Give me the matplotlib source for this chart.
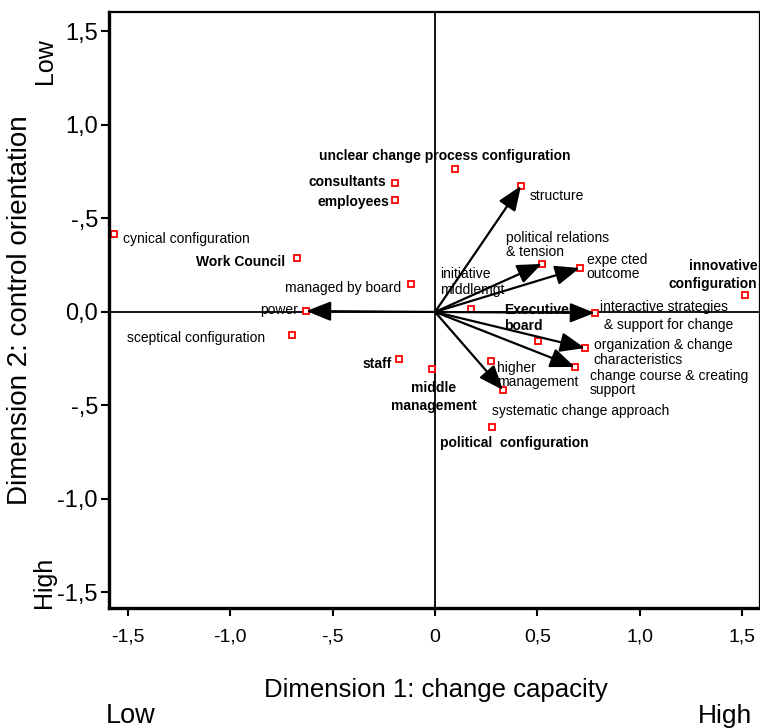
import matplotlib
matplotlib.use('agg')
import matplotlib.pyplot as plt

plt.rcParams['font.family'] = ['Liberation Sans', 'DejaVu Sans']

# category points (red squares)
point_names = ['cynical configuration', 'Work Council', 'consultants', 'employees',
               'unclear change process configuration', 'managed by board',
               'sceptical configuration', 'staff', 'middle\nmanagement',
               'political  configuration', 'higher\nmanagement',
               'initiative\nmiddlemgt', 'Executive\nboard', 'innovative\nconfiguration']
point_x = [-1.571, -0.673, -0.195, -0.195, 0.098, -0.117, -0.698, -0.176, -0.015,
           0.278, 0.273, 0.176, 0.502, 1.517]
point_y = [0.417, 0.289, 0.690, 0.599, 0.765, 0.150, -0.123, -0.251, -0.305,
           -0.615, -0.262, 0.016, -0.155, 0.091]

# variable vectors (arrows from origin)
vec_names = ['structure', 'political relations\n& tension', 'expe cted\noutcome',
             'interactive strategies\n & support for change',
             'organization & change\ncharacteristics',
             'change course & creating\nsupport', 'systematic change approach', 'power']
vec_x = [0.420, 0.522, 0.707, 0.780, 0.732, 0.683, 0.332, -0.629]
vec_y = [0.674, 0.257, 0.235, -0.005, -0.193, -0.294, -0.417, 0.005]

xtick_vals = [-1.5, -1.0, -0.5, 0, 0.5, 1.0, 1.5]
xtick_labels = ['-1,5', '-1,0', '-,5', '0', '0,5', '1,0', '1,5']
ytick_vals = [1.5, 1.0, 0.5, 0.0, -0.5, -1.0, -1.5]
ytick_labels = ['1,5', '1,0', '-,5', '0,0', '-,5', '-1,0', '-1,5']

# label placement: offset in pixels, alignment, weight, line spacing
point_lab = {
    'cynical configuration': (9, -5, 'left', 'normal', 1.1),
    'Work Council': (-12, -4, 'right', 'bold', 1.1),
    'consultants': (-9, 1, 'right', 'bold', 1.1),
    'employees': (-6, -2, 'right', 'bold', 1.1),
    'unclear change process configuration': (-10, 13, 'center', 'bold', 1.1),
    'managed by board': (-10, -4, 'right', 'normal', 1.1),
    'sceptical configuration': (-27, -3, 'right', 'normal', 1.1),
    'staff': (-7, -5, 'right', 'bold', 1.1),
    'middle\nmanagement': (2, -28, 'center', 'bold', 1.3),
    'political  configuration': (22, -16, 'center', 'bold', 1.1),
    'higher\nmanagement': (6, -14, 'left', 'normal', 1.05),
    'initiative\nmiddlemgt': (-31, 27, 'left', 'normal', 1.2),
    'Executive\nboard': (-34, 23, 'left', 'bold', 1.1),
    'innovative\nconfiguration': (12, 20, 'right', 'bold', 1.3),
}
vec_lab = {
    'structure': (9, -10, 'left', 1.1),
    'political relations\n& tension': (-36, 19, 'left', 1.05),
    'expe cted\noutcome': (7, 1, 'left', 1.05),
    'interactive strategies\n & support for change': (5, -3, 'left', 1.3),
    'organization & change\ncharacteristics': (9, -4, 'left', 1.1),
    'change course & creating\nsupport': (15, -16, 'left', 1.05),
    'systematic change approach': (-11, -21, 'left', 1.1),
    'power': (-8, 1, 'right', 1.1),
}

fig = plt.figure(figsize=(7.6, 7.28), dpi=100)
ax = fig.add_axes([109 / 760, 1 - 608 / 728, 650 / 760, 596 / 728])
ax.set_xlim(-1.593, 1.583)
ax.set_ylim(-1.583, 1.604)

ax.axhline(0, color='black', lw=1.3, zorder=1)
ax.axvline(0, color='black', lw=1.3, zorder=1)

# red squares at points and vector tips
ax.plot(point_x + vec_x, point_y + vec_y, 's', ls='none', ms=5,
        mfc='white', mec='red', mew=1.3, zorder=2)

for vx, vy in zip(vec_x, vec_y):
    ax.annotate('', xy=(vx, vy), xytext=(0, 0),
                arrowprops=dict(arrowstyle='-|>,head_length=1.0,head_width=0.4',
                                mutation_scale=15, color='black', lw=1.6,
                                shrinkA=0, shrinkB=0), zorder=3)

for name, x, y in zip(point_names, point_x, point_y):
    dx, dy, ha, w, ls = point_lab[name]
    ax.annotate(name, (x, y), xytext=(dx, dy), textcoords='offset pixels',
                ha=ha, va='center', fontsize=10, fontweight=w,
                linespacing=ls, zorder=4)

for name, x, y in zip(vec_names, vec_x, vec_y):
    dx, dy, ha, ls = vec_lab[name]
    ax.annotate(name, (x, y), xytext=(dx, dy), textcoords='offset pixels',
                ha=ha, va='center', fontsize=10, linespacing=ls, zorder=4)

ax.set_xticks(xtick_vals)
ax.set_xticklabels(xtick_labels, fontsize=14)
ax.set_yticks(ytick_vals)
ax.set_yticklabels(ytick_labels, fontsize=17)
ax.tick_params(axis='x', direction='out', length=6, width=1.5, pad=9)
ax.tick_params(axis='y', direction='out', length=6, width=1.5, pad=2)

ax.spines['left'].set_linewidth(2.4)
ax.spines['bottom'].set_linewidth(2.4)
ax.spines['top'].set_linewidth(1.6)
ax.spines['right'].set_linewidth(0.9)

fig.text(20 / 760, 1 - 310 / 728, 'Dimension 2: control orientation',
         rotation=90, ha='center', va='center', fontsize=20)
fig.text(45 / 760, 1 - 61 / 728, 'Low', rotation=90, ha='center', va='center', fontsize=18)
fig.text(44 / 760, 1 - 582 / 728, 'High', rotation=90, ha='center', va='center', fontsize=18)
fig.text(436 / 760, 1 - 690 / 728, 'Dimension 1: change capacity',
         ha='center', va='center', fontsize=18.5)
fig.text(131 / 760, 1 - 716 / 728, 'Low', ha='center', va='center', fontsize=19.5)
fig.text(725 / 760, 1 - 716 / 728, 'High', ha='center', va='center', fontsize=19)

fig.savefig('out.png', dpi=100)
